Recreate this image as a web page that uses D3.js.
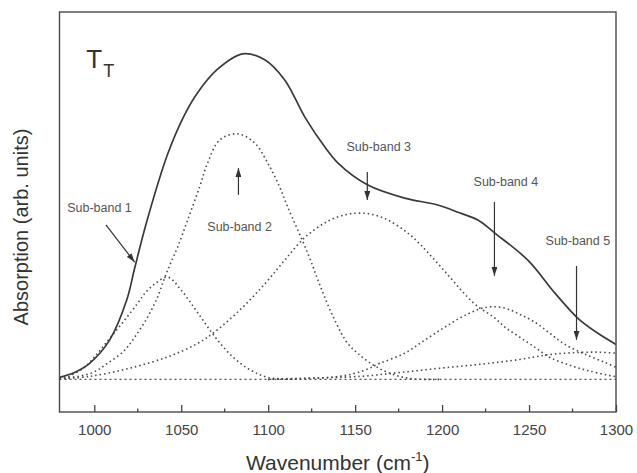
<!DOCTYPE html>
<html>
<head>
<meta charset="utf-8">
<script src="https://cdn.jsdelivr.net/npm/d3@7"></script>
<style>
  body { margin: 0; background: #fff; }
  svg text { font-family: Arial, "Liberation Sans", sans-serif; }
</style>
</head>
<body>
<script>

// Data: [wavenumber (cm-1), absorption (arb. units)]

var mainCurve = [
  [980, 0.006], [988.6, 0.021], [997.3, 0.049], [1008.8, 0.12], [1018.6, 0.242],
  [1023.2, 0.34], [1030.1, 0.482], [1042.2, 0.69], [1051.9, 0.81], [1059.4, 0.878],
  [1070.9, 0.95], [1085.3, 0.997], [1098, 0.979], [1109.5, 0.917], [1121, 0.804],
  [1132.5, 0.712], [1140, 0.663], [1157.3, 0.595], [1178.5, 0.555], [1197.5, 0.534],
  [1210, 0.51], [1220.6, 0.488], [1230.3, 0.448], [1249.3, 0.365], [1264.9, 0.264],
  [1278.1, 0.187], [1289.6, 0.141], [1300, 0.107]
]

var subBand1 = [
  [980, 0.002], [984, 0.006], [994.4, 0.037], [1001.9, 0.08], [1009.4, 0.129],
  [1017.4, 0.181], [1024.9, 0.233], [1028.9, 0.262], [1034.7, 0.292], [1042.2, 0.313],
  [1050, 0.273], [1060, 0.2], [1070, 0.126], [1080, 0.067], [1090, 0.028],
  [1100, 0.006], [1115, 0]
]

var subBand2 = [
  [980, 0.002], [997.8, 0.018], [1007.6, 0.049], [1017.4, 0.089], [1023.2, 0.129],
  [1030.6, 0.19], [1036.4, 0.252], [1040.4, 0.31], [1043.9, 0.356], [1047.9, 0.405],
  [1053.7, 0.488], [1060.6, 0.59], [1065.2, 0.663], [1072.1, 0.733], [1082.4, 0.752],
  [1092.2, 0.724], [1099.7, 0.663], [1106.6, 0.589], [1111.2, 0.528], [1122.7, 0.387],
  [1130.2, 0.282], [1138.3, 0.181], [1145.7, 0.11], [1151.5, 0.08], [1159, 0.049],
  [1168.8, 0.021], [1181, 0.003], [1200, 0]
]

var subBand3 = [
  [980, 0.002], [997.3, 0.009], [1020.3, 0.034], [1043.3, 0.071], [1059.4, 0.11],
  [1069.2, 0.145], [1084.2, 0.215], [1098, 0.292], [1109.5, 0.365], [1121, 0.434],
  [1134.2, 0.484], [1145, 0.505], [1152.7, 0.509], [1160, 0.505], [1168.8, 0.488],
  [1180.3, 0.448], [1187.8, 0.411], [1195.8, 0.365], [1204.5, 0.313], [1212, 0.267],
  [1220, 0.225], [1229.8, 0.19], [1236.1, 0.16], [1244.7, 0.129], [1253.4, 0.098],
  [1262, 0.067], [1273.5, 0.043], [1285, 0.025], [1300, 0.008]
]

var subBand4 = [
  [1100, 0], [1141.2, 0.009], [1155.5, 0.028], [1164.2, 0.049], [1178.5, 0.08],
  [1190, 0.12], [1201.6, 0.16], [1213.1, 0.196], [1225.7, 0.221], [1236.1, 0.218],
  [1244.7, 0.199], [1253.4, 0.175], [1262, 0.141], [1270.6, 0.107], [1282.2, 0.077],
  [1293.6, 0.052], [1300, 0.037]
]

var subBand5 = [
  [1100, 0], [1118, 0.003], [1152.7, 0.009], [1175.7, 0.021], [1198.7, 0.034],
  [1221.7, 0.046], [1244.7, 0.061], [1259.1, 0.074], [1270.6, 0.08], [1282.2, 0.083],
  [1290.8, 0.083], [1300, 0.08]
]

var baseLine = [[980, 0], [1300, 0]]

var majorTicks = [1000, 1050, 1100, 1150, 1200, 1250, 1300]
var minorTicks = [1025, 1075, 1125, 1175, 1225, 1275]

// labels: start position (wavenumber, absorption) of the text baseline
var bandLabels = [
  {text: 'Sub-band 1', w: 984.4, v: 0.511},
  {text: 'Sub-band 2', w: 1065.0, v: 0.454},
  {text: 'Sub-band 3', w: 1145.0, v: 0.699},
  {text: 'Sub-band 4', w: 1218.1, v: 0.592},
  {text: 'Sub-band 5', w: 1259.5, v: 0.4115}
]

// arrows: from -> to (tip)
var bandArrows = [
  {from: [1006.7, 0.473], to: [1023.2, 0.359]},
  {from: [1082.9, 0.565], to: [1082.9, 0.647]},
  {from: [1157.0, 0.635], to: [1157.0, 0.549]},
  {from: [1230.1, 0.543], to: [1230.1, 0.317]},
  {from: [1277.3, 0.347], to: [1277.3, 0.121]}
]

var titlePos = {w: 995.4, v: 0.953}


// Set the dimensions of the canvas / graph
var margin = {top: 12, right: 21, bottom: 61, left: 59.5},
  width = 637 - margin.left - margin.right,
  height = 473 - margin.top - margin.bottom

var xScale = d3.scaleLinear().domain([980, 1300]).range([0, width])
var yScale = d3.scaleLinear().domain([-0.1, 1.125]).range([height, 0])

var lineGenerator = d3.line()
  .x(function(d) { return xScale(d[0]) })
  .y(function(d) { return yScale(d[1]) })
  .curve(d3.curveCatmullRom.alpha(0.5))

var svg = d3.select("body").append("svg")
  .attr("width", 637)
  .attr("height", 473)
  .append("g")
  .attr("transform", "translate(" + margin.left + "," + margin.top + ")")

// arrow head
svg.append("defs").append("marker")
  .attr("id", "head")
  .attr("markerUnits", "userSpaceOnUse")
  .attr("markerWidth", 10)
  .attr("markerHeight", 6)
  .attr("refX", 9)
  .attr("refY", 3)
  .attr("orient", "auto")
  .append("path")
  .attr("d", "M0,0 L9,3 L0,6 Z")
  .attr("fill", "#333")

// baseline and sub-bands (dotted)
svg.append("path")
  .datum(baseLine)
  .attr("d", lineGenerator)
  .attr("fill", "none")
  .attr("stroke", "#555")
  .attr("stroke-width", 1.3)
  .attr("stroke-dasharray", "2,3")

var subBands = [subBand1, subBand2, subBand3, subBand4, subBand5]
svg.selectAll(".sub")
  .data(subBands)
  .enter().append("path")
  .attr("class", "sub")
  .attr("d", lineGenerator)
  .attr("fill", "none")
  .attr("stroke", "#4a4a4a")
  .attr("stroke-width", 1.6)
  .attr("stroke-dasharray", "1.5,3")

// measured curve
svg.append("path")
  .datum(mainCurve)
  .attr("d", lineGenerator)
  .attr("fill", "none")
  .attr("stroke", "#3a3a3a")
  .attr("stroke-width", 1.7)

// frame
svg.append("rect")
  .attr("x", 0).attr("y", 0)
  .attr("width", width).attr("height", height)
  .attr("fill", "none")
  .attr("stroke", "#4a4a4a")
  .attr("stroke-width", 1.4)

// X Axis, ticks pointing inward
var xAxis = d3.axisBottom(xScale)
  .tickValues(majorTicks)
  .tickFormat(d3.format("d"))
  .tickSizeInner(-7)
  .tickSizeOuter(0)
  .tickPadding(12)

var gx = svg.append("g")
  .attr("transform", "translate(0," + height + ")")
  .call(xAxis)
gx.select(".domain").remove()
gx.selectAll("line").attr("stroke", "#444").attr("stroke-width", 1.3)
gx.selectAll("text")
  .attr("fill", "#444")
  .style("font-size", "15px")

svg.append("g").selectAll("line")
  .data(minorTicks)
  .enter().append("line")
  .attr("x1", function(d) { return xScale(d) })
  .attr("x2", function(d) { return xScale(d) })
  .attr("y1", height)
  .attr("y2", height - 3.5)
  .attr("stroke", "#444")
  .attr("stroke-width", 1.3)

// arrows
svg.selectAll(".arrow")
  .data(bandArrows)
  .enter().append("line")
  .attr("class", "arrow")
  .attr("x1", function(d) { return xScale(d.from[0]) })
  .attr("y1", function(d) { return yScale(d.from[1]) })
  .attr("x2", function(d) { return xScale(d.to[0]) })
  .attr("y2", function(d) { return yScale(d.to[1]) })
  .attr("stroke", "#333")
  .attr("stroke-width", 1.2)
  .attr("marker-end", "url(#head)")

// sub-band labels
svg.selectAll(".blabel")
  .data(bandLabels)
  .enter().append("text")
  .attr("class", "blabel")
  .attr("x", function(d) { return xScale(d.w) })
  .attr("y", function(d) { return yScale(d.v) })
  .attr("fill", "#555")
  .style("font-size", "12.5px")
  .text(function(d) { return d.text })

// T_T
var tt = svg.append("text")
  .attr("x", xScale(titlePos.w))
  .attr("y", yScale(titlePos.v))
  .attr("fill", "#333")
  .style("font-size", "26px")
  .text("T")
tt.append("tspan")
  .attr("dx", 1)
  .attr("dy", 9)
  .style("font-size", "18px")
  .text("T")

// axis titles
var xt = svg.append("text")
  .attr("x", width / 2)
  .attr("y", height + 58)
  .attr("text-anchor", "middle")
  .attr("fill", "#333")
  .style("font-size", "21px")
  .text("Wavenumber (cm")
xt.append("tspan").attr("dy", -9).style("font-size", "13px").text("-1")
xt.append("tspan").attr("dy", 9).text(")")

svg.append("text")
  .attr("transform", "translate(" + (27.5 - margin.left) + "," + (227 - margin.top) + ") rotate(-90)")
  .attr("text-anchor", "middle")
  .attr("fill", "#333")
  .style("font-size", "20px")
  .text("Absorption (arb. units)")

</script>
</body>
</html>
